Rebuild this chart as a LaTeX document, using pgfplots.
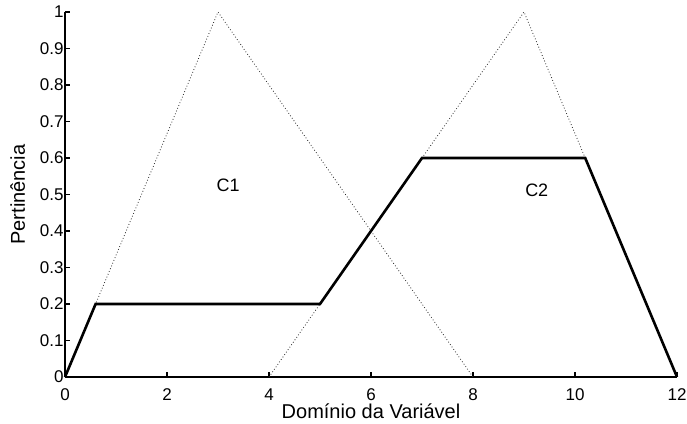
\documentclass[border=0pt]{standalone}
\usepackage{fontspec}
\setmainfont{Liberation Sans}
\usepackage{pgfplots}
\pgfplotsset{compat=1.18}
\usetikzlibrary{calc}
\begin{document}
\begin{tikzpicture}
\begin{axis}[
  name=ax,
  scale only axis,
  width=612pt, height=365pt,
  xmin=0, xmax=12, ymin=0, ymax=1,
  axis x line=bottom, axis y line=left,
  axis line style={-, line width=1.3pt},
  tick style={line width=1.3pt, black},
  tick align=inside,
  major tick length=5pt,
  xtick={0,2,...,12},
  ytick={0,0.1,...,1},
  yticklabels={0,0.1,0.2,0.3,0.4,0.5,0.6,0.7,0.8,0.9,1},
  /pgf/number format/assume math mode=true,
  ticklabel style={font=\fontsize{17}{19}\selectfont},
  xticklabel style={anchor=base, yshift=-23pt},
  yticklabel style={xshift=2pt},
  label style={font=\fontsize{20}{22}\selectfont},
  xlabel={Domínio da Variável},
  ylabel={Pertinência},
  xlabel style={at={(axis description cs:0.5,0)}, anchor=base, yshift=-41pt},
  ylabel style={yshift=8pt},
  clip=false,
]
\addplot[black!85, line width=0.8pt, dash pattern=on 0.8pt off 2.2pt] coordinates {(0,0) (3,1) (8,0)};
\addplot[black!85, line width=0.8pt, dash pattern=on 0.8pt off 2.2pt] coordinates {(4,0) (9,1) (12,0)};
\addplot[black, line width=2.6pt] coordinates {(0,0) (0.6,0.2) (5,0.2) (7,0.6) (10.2,0.6) (12,0)};
\node[font=\fontsize{18}{20}\selectfont] at (axis cs:3.2,0.525) {C1};
\node[font=\fontsize{18}{20}\selectfont] at (axis cs:9.25,0.512) {C2};
\end{axis}
\pgfresetboundingbox
\path[use as bounding box] ($(ax.south west)+(-65pt,-46pt)$) rectangle ($(ax.north east)+(10pt,12pt)$);
\end{tikzpicture}
\end{document}
